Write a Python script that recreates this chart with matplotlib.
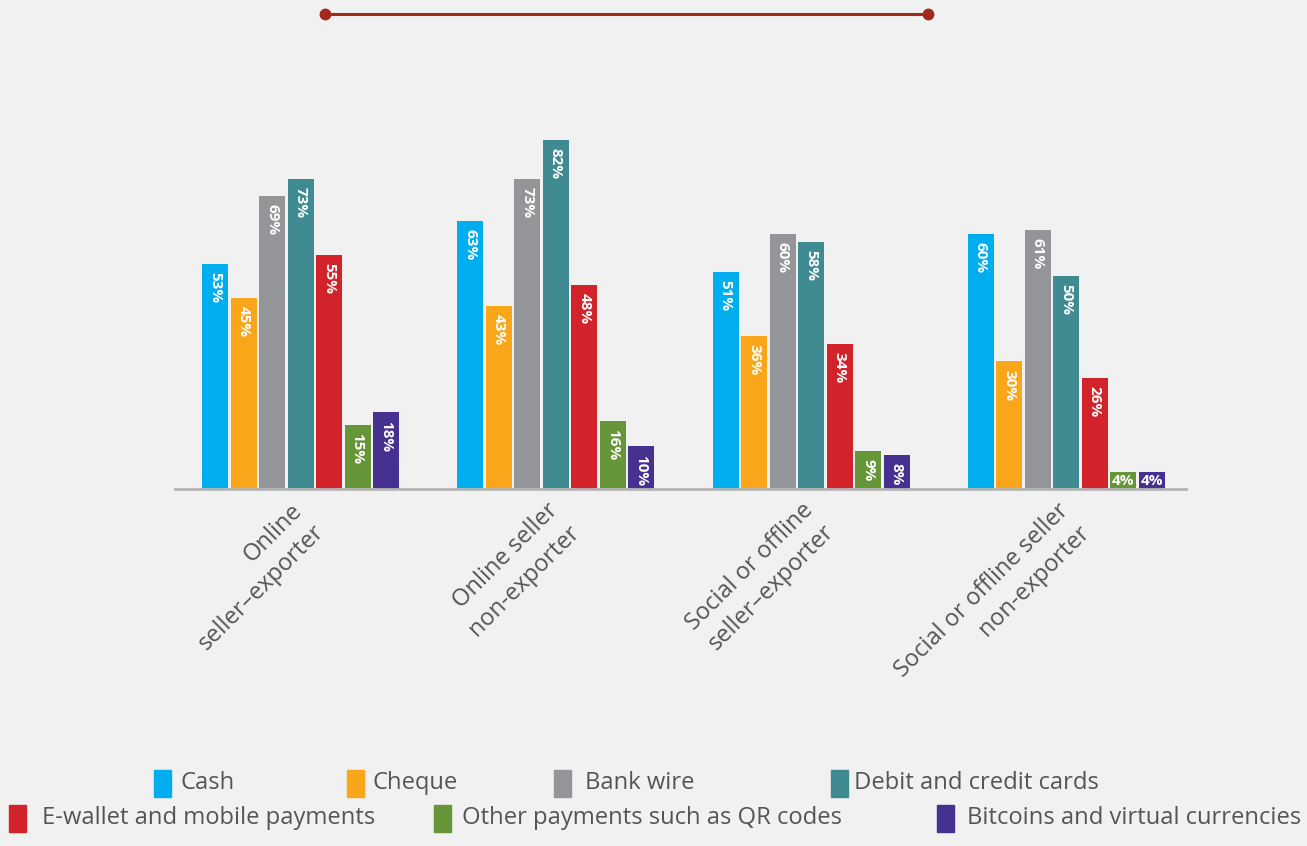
import matplotlib.pyplot as plt
from matplotlib.lines import Line2D
from matplotlib.patches import Rectangle
import matplotlib.transforms as mtransforms

# Datos
categories = ['Online\nseller–exporter', 'Online seller\nnon-exporter',
              'Social or offline\nseller–exporter', 'Social or offline seller\nnon-exporter']
methods = ['Cash', 'Cheque', 'Bank wire', 'Debit and credit cards',
           'E-wallet and mobile payments', 'Other payments such as QR codes',
           'Bitcoins and virtual currencies']
cash = [53, 63, 51, 60]
cheque = [45, 43, 36, 30]
bank_wire = [69, 73, 60, 61]
cards = [73, 82, 58, 50]
ewallet = [55, 48, 34, 26]
other = [15, 16, 9, 4]
bitcoins = [18, 10, 8, 4]
colors = ['#00aeef', '#f9a61a', '#939598', '#3f8b91', '#d2222a', '#679639', '#463191']

series = [cash, cheque, bank_wire, cards, ewallet, other, bitcoins]

plt.rcParams['font.family'] = ['Open Sans', 'DejaVu Sans']
bg = '#f1f1f1'
W, H = 1307, 846

fig = plt.figure(figsize=(W / 100, H / 100), dpi=100, facecolor=bg)
ax = fig.add_axes([175 / W, 1 - 489 / H, (1186 - 175) / W, 425 / H])
ax.set_facecolor(bg)

step = 28.5 / 255.3
width = 26 / 255.3
x = list(range(len(categories)))

for j, (vals, col) in enumerate(zip(series, colors)):
    xs = [xi + (j - 3) * step for xi in x]
    ax.bar(xs, vals, width=width, color=col, zorder=2)
    for xi, v in zip(xs, vals):
        if v < 5:
            ax.text(xi, v / 2, f'{v}%', ha='center', va='center', color='white',
                    fontsize=11, fontweight='bold', zorder=3)
        else:
            off = mtransforms.offset_copy(ax.transData, fig=fig, x=0, y=-8, units='dots')
            ax.text(xi, v, f'{v}%', rotation=270, rotation_mode='anchor', ha='left',
                    va='center', color='white', fontsize=11, fontweight='bold',
                    transform=off, zorder=3)

ax.set_xlim(-0.4916, 3.4685)
ax.set_ylim(0, 100)
for s in ['top', 'right', 'left']:
    ax.spines[s].set_visible(False)
ax.spines['bottom'].set_color('#b5b5b5')
ax.spines['bottom'].set_linewidth(2)
ax.set_yticks([])
ax.set_xticks(x)
ax.set_xticklabels(categories, rotation=45, ha='right', va='top', rotation_mode='anchor',
                   multialignment='right', linespacing=1.35, fontsize=17, color='#555555')
ax.tick_params(axis='x', length=0, pad=7)
for lbl in ax.get_xticklabels():
    lbl.set_transform(lbl.get_transform() + mtransforms.ScaledTranslation(-10 / 100, 0, fig.dpi_scale_trans))

# Linea decorativa superior
fig.add_artist(Line2D([325 / W, 928 / W], [1 - 14 / H, 1 - 14 / H], color='#a3281c',
                      linewidth=2.2, marker='o', markersize=7.5))

# Leyenda
legend_pos = [
    (154, 181, 783), (347, 373, 783), (554, 585, 783), (831, 854, 783),
    (9, 42, 818), (434, 462, 818), (937, 967, 818),
]
for (mx, tx, yc), name, col in zip(legend_pos, methods, colors):
    fig.add_artist(Rectangle((mx / W, 1 - (yc + 13.5) / H), 17 / W, 27 / H,
                             color=col, transform=fig.transFigure))
    fig.text(tx / W, 1 - yc / H, name, ha='left', va='center', fontsize=17.1, color='#555555')

fig.savefig('out.png', dpi=100, facecolor=bg)
